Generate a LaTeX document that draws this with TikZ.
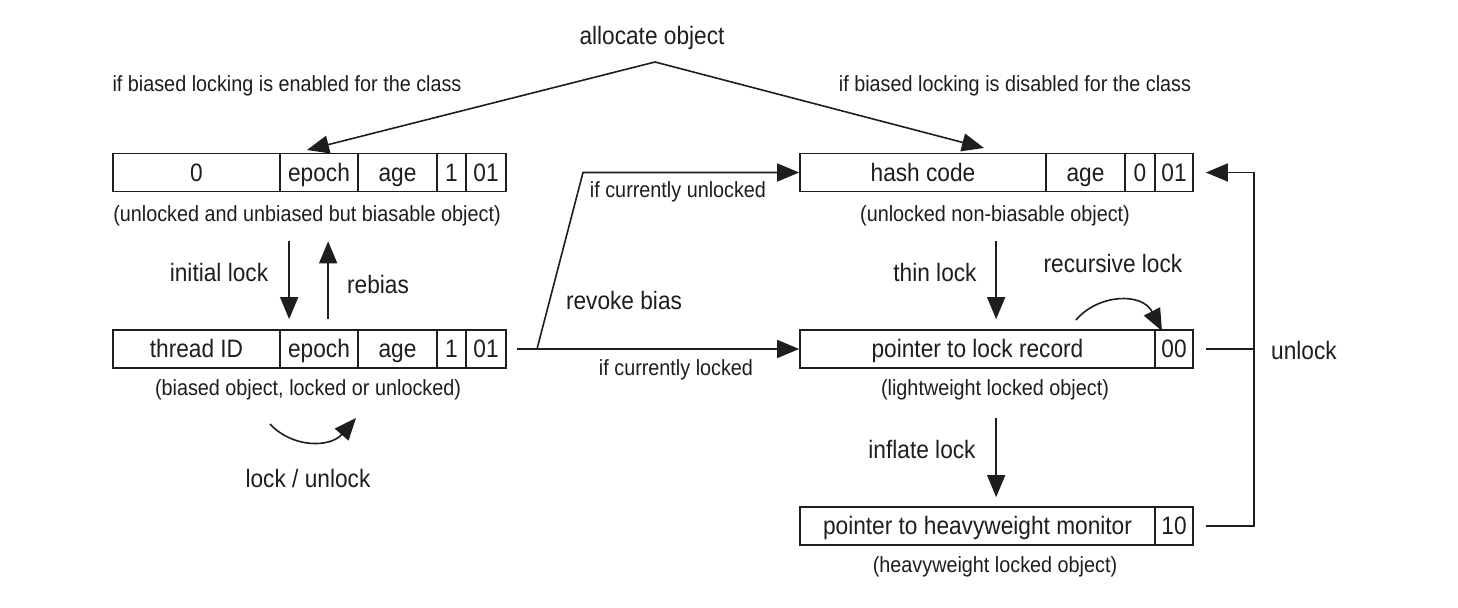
\documentclass[tikz,border=0pt]{standalone}
\usepackage{fontspec}
\setmainfont[FakeStretch=0.9]{Liberation Sans}
\usetikzlibrary{arrows.meta}
\definecolor{ink}{HTML}{1E1E1E}
\begin{document}
\begin{tikzpicture}[x=0.5pt,y=-0.5pt,
  big/.style={font=\fontsize{12.6}{14}\selectfont, text=ink, inner sep=0pt},
  small/.style={font=\fontsize{11}{13}\selectfont, text=ink, inner sep=0pt},
  cell/.style={big, draw=ink, line width=0.85pt, rectangle, minimum height=19pt, text height=9pt, text depth=0pt},
  wire/.style={draw=ink, line width=0.8pt},
  arr/.style={wire, -{Triangle[length=11pt,width=9pt]}}]
\useasboundingbox (0,0) rectangle (1458,608);
\fill[white] (0,0) rectangle (1458,608);

% biasable, unlocked header word
\node[cell, minimum width=83.5pt] (z1)  at (196.5,172.5) {0};
\node[cell, minimum width=39pt]   (ep1) at (319,172.5)   {epoch};
\node[cell, minimum width=39.5pt] (ag1) at (397.5,172.5) {age};
\node[cell, minimum width=14.5pt] (b1)  at (451.5,172.5) {1};
\node[cell, minimum width=20pt]   (t1)  at (486,172.5)   {01};
\node[small, anchor=base] (l1) at (307,222) {(unlocked and unbiased but biasable object)};

% biased header word
\node[cell, minimum width=83.5pt] (tid) at (196.5,349) {thread ID};
\node[cell, minimum width=39pt]   (ep2) at (319,349)   {epoch};
\node[cell, minimum width=39.5pt] (ag2) at (397.5,349) {age};
\node[cell, minimum width=14.5pt] (b2)  at (451.5,349) {1};
\node[cell, minimum width=20pt]   (t2)  at (486,349)   {01};
\node[small, anchor=base] (l2) at (308,396) {(biased object, locked or unlocked)};

% non-biasable, unlocked header word
\node[cell, minimum width=123pt]  (hc)  at (923,172.5)    {hash code};
\node[cell, minimum width=39.5pt] (ag3) at (1085.5,172.5) {age};
\node[cell, minimum width=15pt]   (z3)  at (1140,172.5)   {0};
\node[cell, minimum width=19pt]   (t3)  at (1174,172.5)   {01};
\node[small, anchor=base] (l3) at (995,222) {(unlocked non-biasable object)};

% lightweight locked header word
\node[cell, minimum width=177.5pt] (ptr) at (977.5,349) {pointer to lock record};
\node[cell, minimum width=19pt]    (oo)  at (1174,349)  {00};
\node[small, anchor=base] (l4) at (995,396) {(lightweight locked object)};

% heavyweight locked header word
\node[cell, minimum width=177.5pt] (mon) at (977.5,526) {pointer to heavyweight monitor};
\node[cell, minimum width=19pt]    (tn)  at (1174,526)  {10};
\node[small, anchor=base] (l5) at (995,573) {(heavyweight locked object)};

% allocation
\node[big] (alloc) at (652,38) {allocate object};
\coordinate (apex) at (655,62);
\coordinate (lt) at (307,150);
\coordinate (rt) at (984,148);
\draw[arr] (apex) -- (lt);
\draw[arr] (apex) -- (rt);
\node[small] at (287,86) {if biased locking is enabled for the class};
\node[small] at (1015,86) {if biased locking is disabled for the class};

% initial lock / rebias
\draw[arr] ([xshift=5pt,yshift=-24.5pt]ep1.south west) -- ([xshift=5pt,yshift=5pt]ep2.north west);
\draw[arr] ([xshift=24.5pt,yshift=5pt]ep2.north west) -- ([xshift=24.5pt,yshift=-24.5pt]ep1.south west);
\node[big] at (219,272) {initial lock};
\node[big] at (378,284) {rebias};

% lock / unlock while biased
\coordinate (lu1) at (270,424);
\coordinate (lu2) at (356,418);
\draw[arr] (lu1) .. controls (292,448) and (330,448) .. (lu2);
\node[big] at (308,478) {lock / unlock};

% revoke bias
\coordinate (br) at (537,349);
\coordinate (kn) at (583,172.5);
\draw[arr] ([xshift=5pt]t2.east) -- (ptr.west);
\draw[arr] (br) -- (kn) -- (hc.west);
\node[small] at (678,192) {if currently unlocked};
\node[big] at (624,300) {revoke bias};
\node[small] at (676,370) {if currently locked};

% thin lock / inflate lock
\draw[arr] ([xshift=98.5pt,yshift=-24.5pt]hc.south west) -- ([xshift=98.5pt,yshift=5pt]ptr.north west);
\draw[arr] ([xshift=98.5pt,yshift=-24.5pt]ptr.south west) -- ([xshift=98.5pt,yshift=4.5pt]mon.north west);
\node[big] at (935,272) {thin lock};
\node[big] at (922,449) {inflate lock};

% recursive lock
\coordinate (rl1) at (1076,320);
\coordinate (rl2) at (1162,331);
\draw[arr] (rl1) .. controls (1098,294) and (1142,292) .. (rl2);
\node[big] at (1113,263) {recursive lock};

% unlock
\draw[wire] ([xshift=6pt]oo.east) -- ++(24pt,0);
\draw[arr] ([xshift=6pt]tn.east) -- ++(24pt,0) |- ([xshift=6pt]t3.east);
\node[big] at (1304,350) {unlock};
\end{tikzpicture}
\end{document}
